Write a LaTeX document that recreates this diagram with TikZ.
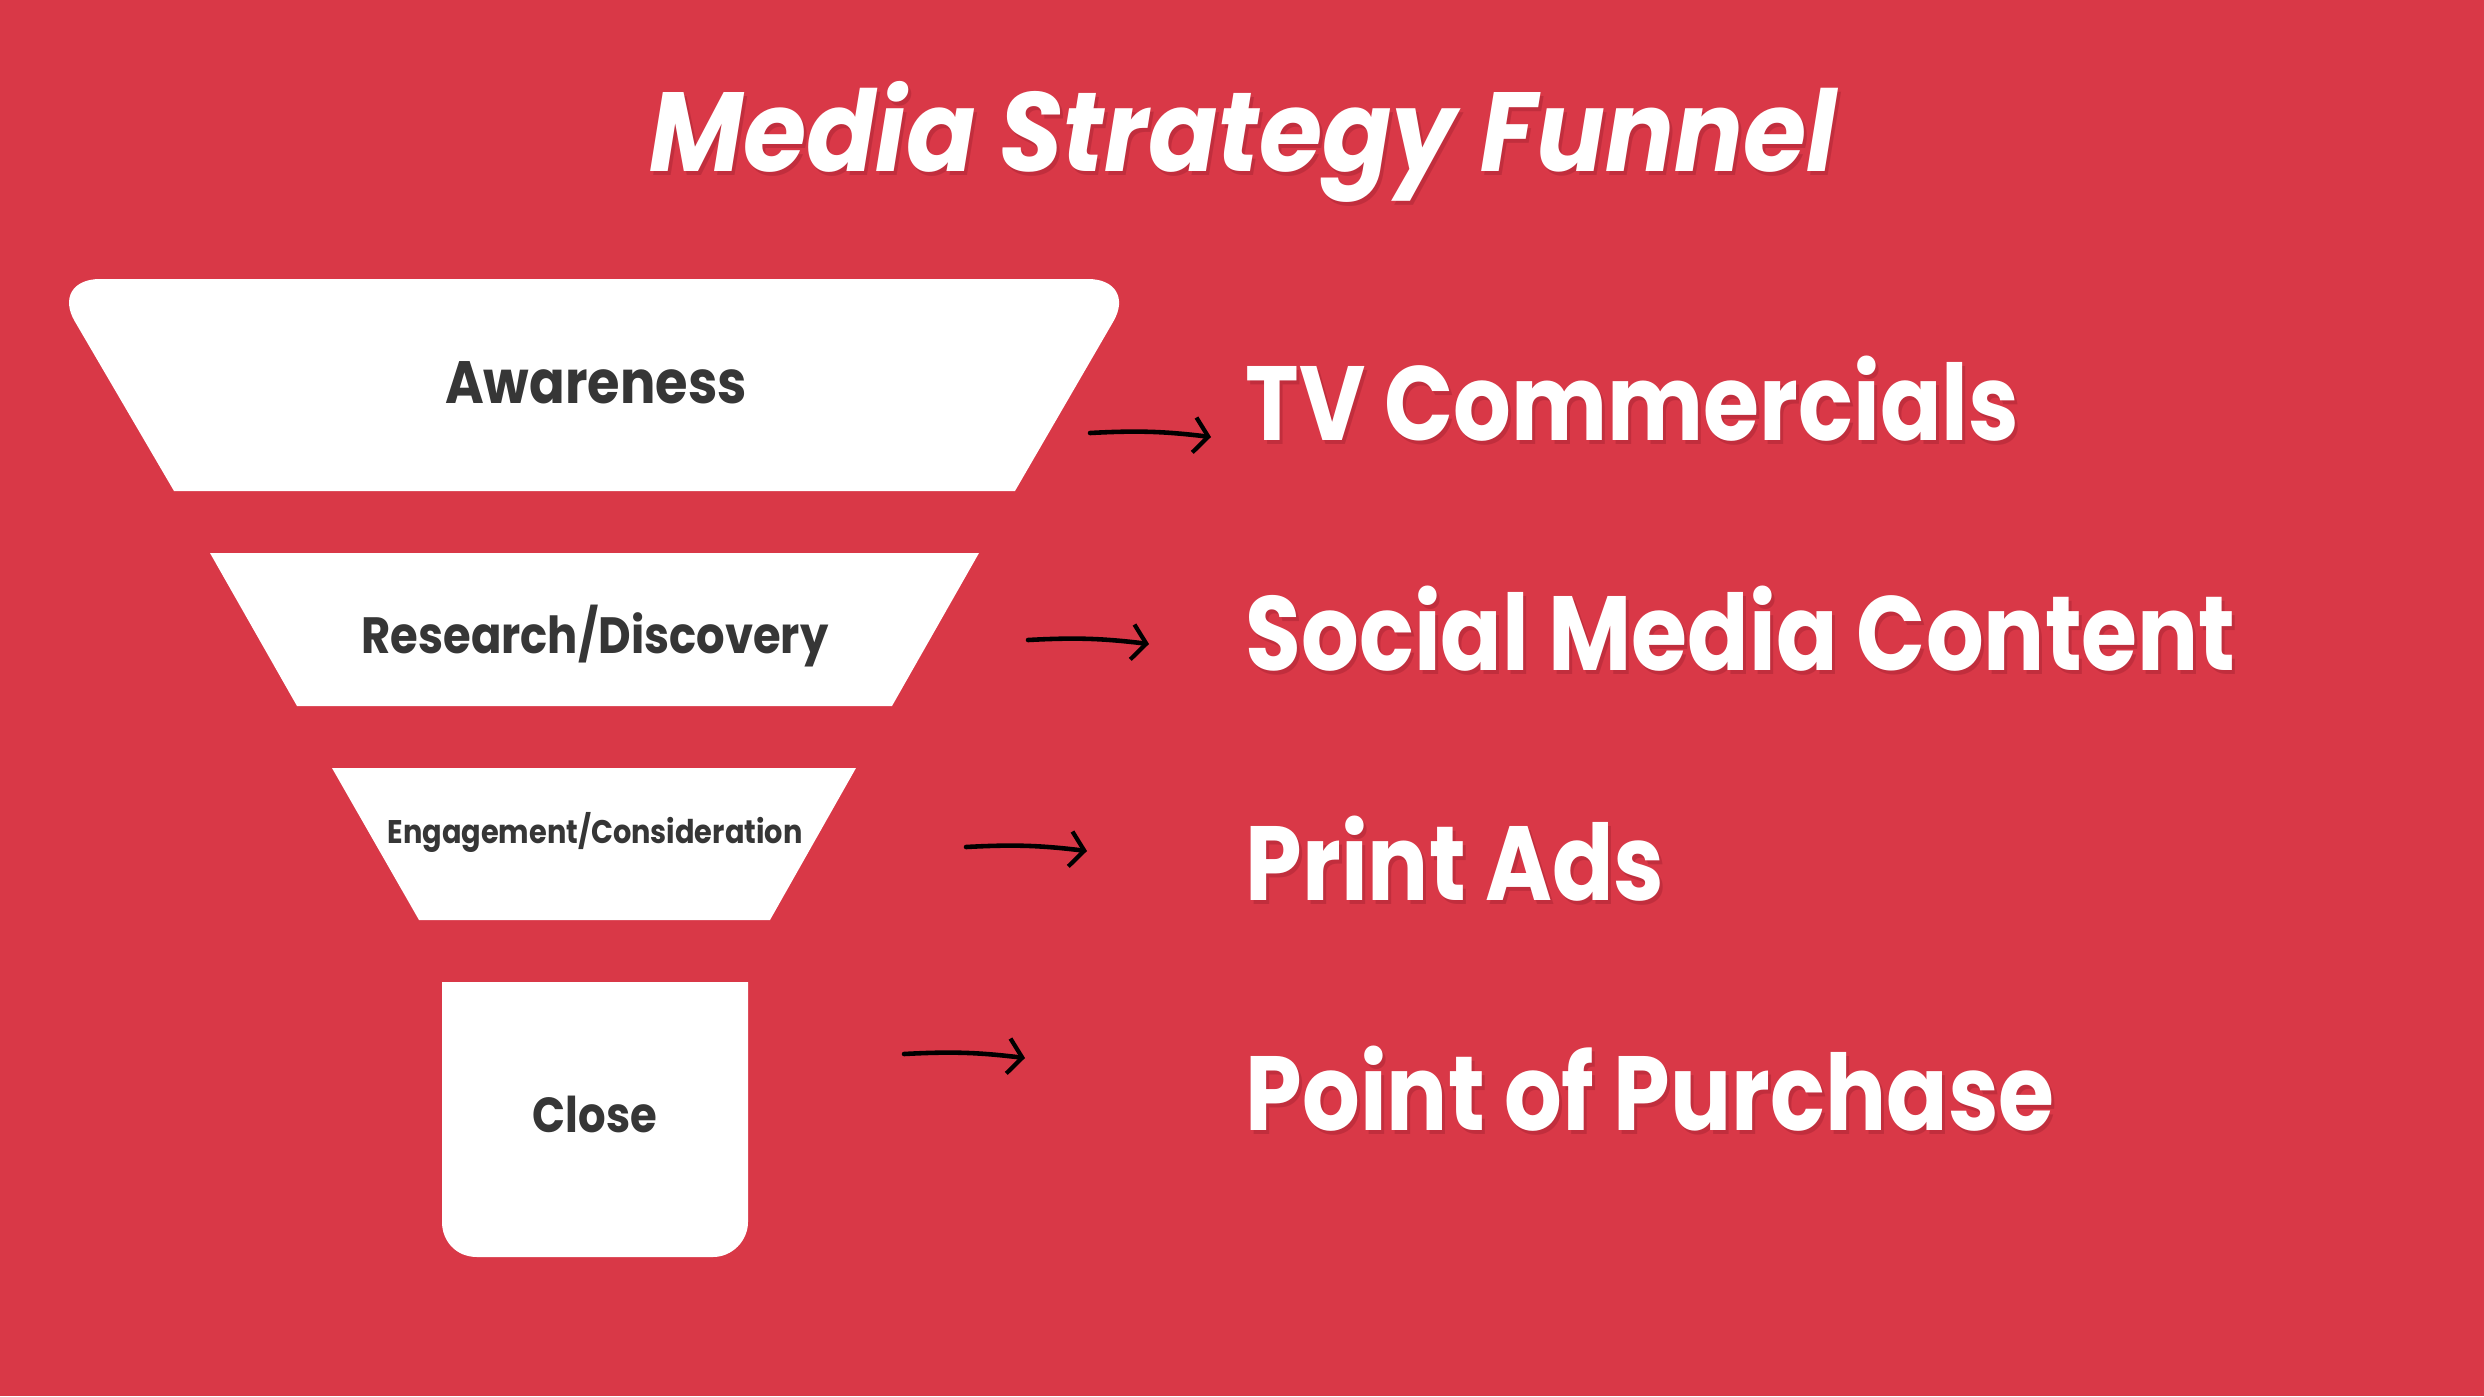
\documentclass[tikz,border=0pt]{standalone}
\usepackage{fontspec}
\setmainfont{Poppins}
\newfontfamily\titlefont{Poppins}[FakeStretch=0.91]
\newfontfamily\channelfont{Poppins}[FakeStretch=0.86]
\newfontfamily\stagefont{Poppins}[FakeStretch=0.88]
\usepackage{xcolor}
\usepackage{tikz}
\usetikzlibrary{positioning,arrows.meta,calc}
\definecolor{funnelRed}{HTML}{D93847}
\definecolor{funnelInk}{HTML}{363636}
\definecolor{funnelShade}{HTML}{7A1420}

\begin{document}
\begin{tikzpicture}[x=0.01cm, y=-0.01cm,
    stage/.style={text=funnelInk, inner sep=0pt, anchor=base},
    channel/.style={text=white, font=\channelfont\bfseries\fontsize{30}{36}\selectfont, inner sep=0pt, anchor=base west},
    channelShade/.style={channel, text=funnelShade, opacity=0.25},
    sketch/.style={line width=1.3pt, line cap=round, -{Straight Barb[length=4pt, width=10pt, line width=1.2pt]}}]
    \fill[funnelRed] (0,0) rectangle (2484,1396);
    \useasboundingbox (0,0) rectangle (2484,1396);
    % title
    \node[text=funnelShade, opacity=0.25, font=\titlefont\bfseries\itshape\fontsize{32}{38}\selectfont, inner sep=0pt, anchor=base] (titleShade) at (1246,175) {Media Strategy Funnel};
    \node[text=white, font=\titlefont\bfseries\itshape\fontsize{32}{38}\selectfont, inner sep=0pt, anchor=base] (title) at (1243,171) {Media Strategy Funnel};
    % funnel
    \coordinate (awTL) at (50,279);
    \coordinate (awTR) at (1138,279);
    \fill[white] (174,491) -- ($(awTL)!0.2!(174,491)$)
        .. controls ($(awTL)!0.09!(174,491)$) and ($(awTL)!0.45!(100,279)$) .. (100,279)
        -- (1088,279)
        .. controls ($(awTR)!0.45!(1088,279)$) and ($(awTR)!0.09!(1015,491)$) .. ($(awTR)!0.2!(1015,491)$)
        -- (1015,491) -- cycle;
    \fill[white] (210,553) -- (979,553) -- (892,706) -- (297,706) -- cycle;
    \fill[white] (332,768) -- (856,768) -- (770,920) -- (419,920) -- cycle;
    \fill[white] (442,982) -- (442,1222) .. controls (442,1241) and (456,1257) .. (477,1257)
        -- (713,1257) .. controls (732,1257) and (748,1241) .. (748,1222) -- (748,982) -- cycle;
    \node[stage, font=\stagefont\bfseries\fontsize{17}{20}\selectfont] (awareness) at (596,403) {Awareness};
    \node[stage, font=\stagefont\bfseries\fontsize{14.5}{17}\selectfont] (research) at (595,653) {Research/Discovery};
    \node[stage, font=\stagefont\bfseries\fontsize{9.3}{11}\selectfont] (engagement) at (595,843) {Engagement/Consideration};
    \node[stage, font=\stagefont\bfseries\fontsize{14}{17}\selectfont] (close) at (595,1132) {Close};
    % channels and arrows
    \foreach \t [count=\i] in {TV Commercials, Social Media Content, Print Ads, Point of Purchase} {
        \node[channelShade] (shade\i) at ({1248},{444+(\i-1)*230}) {\t};
        \node[channel] (channel\i) at ({1245},{440+(\i-1)*230}) {\t};
        \coordinate (from\i) at ({1090-(\i-1)*62},{433+(\i-1)*207});
        \coordinate (to\i) at ({1211-(\i-1)*62},{437+(\i-1)*207});
        \draw[sketch] (from\i) to[bend left=5] (to\i);
    }
\end{tikzpicture}
\end{document}
